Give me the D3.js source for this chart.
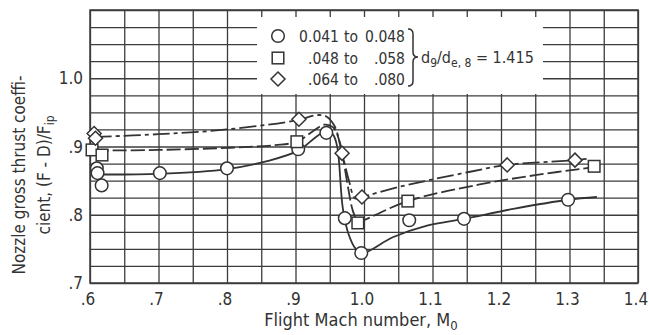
<!DOCTYPE html>
<html>
<head>
<meta charset="utf-8">
<script src="https://cdn.jsdelivr.net/npm/d3@7"></script>
<style>
  html, body { margin: 0; padding: 0; background: #fff; }
  svg { display: block; font-family: "Liberation Sans Narrow", "DejaVu Sans Condensed", "Arial Narrow", sans-serif; fill: #333; }
</style>
</head>
<body>
<svg id="chart" width="649" height="335"></svg>
<script>
// Axis ticks and labels
const xTickValues = [0.6, 0.7, 0.8, 0.9, 1.0, 1.1, 1.2, 1.3, 1.4];
const xTickLabels = [".6", ".7", ".8", ".9", "1.0", "1.1", "1.2", "1.3", "1.4"];
const yTickValues = [0.7, 0.8, 0.9, 1.0];
const yTickLabels = [".7", ".8", ".9", "1.0"];

// Measured points: Mach number and thrust-minus-drag coefficient
const circleMach = [0.610, 0.611, 0.617, 0.702, 0.800, 0.904, 0.945, 0.972, 0.996, 1.066, 1.146, 1.298];
const circleCoef = [0.868, 0.861, 0.843, 0.861, 0.868, 0.896, 0.920, 0.795, 0.744, 0.792, 0.794, 0.822];

const squareMach = [0.603, 0.6175, 0.902, 0.991, 1.064, 1.336];
const squareCoef = [0.895, 0.8875, 0.907, 0.788, 0.820, 0.871];

const diamondMach = [0.606, 0.608, 0.905, 0.968, 0.997, 1.209, 1.308];
const diamondCoef = [0.919, 0.912, 0.940, 0.890, 0.826, 0.873, 0.880];

// Faired curves through each data set
const solidMach = [0.607, 0.70, 0.80, 0.86, 0.904, 0.93, 0.945, 0.955, 0.961, 0.969, 0.977, 0.988, 0.998, 1.042, 1.092, 1.146, 1.22, 1.298, 1.34];
const solidCoef = [0.859, 0.860, 0.867, 0.879, 0.894, 0.914, 0.923, 0.917, 0.899, 0.810, 0.773, 0.750, 0.744, 0.767, 0.784, 0.794, 0.809, 0.822, 0.826];

const dashMach = [0.607, 0.70, 0.80, 0.87, 0.902, 0.925, 0.942, 0.955, 0.965, 0.975, 0.984, 0.992, 1.00, 1.064, 1.167, 1.25, 1.33];
const dashCoef = [0.894, 0.895, 0.898, 0.902, 0.907, 0.922, 0.932, 0.928, 0.905, 0.850, 0.805, 0.789, 0.792, 0.820, 0.844, 0.858, 0.869];

const dashDotMach = [0.607, 0.70, 0.80, 0.905, 0.93, 0.945, 0.957, 0.968, 0.978, 0.987, 0.997, 1.052, 1.155, 1.209, 1.308, 1.325];
const dashDotCoef = [0.914, 0.918, 0.925, 0.939, 0.946, 0.944, 0.930, 0.890, 0.850, 0.824, 0.826, 0.841, 0.863, 0.873, 0.880, 0.882];

// Legend entries
const legendShapes = ["circle", "square", "diamond"];
const legendLow = ["0.041", ".048", ".064"];
const legendHigh = ["0.048", ".058", ".080"];

const svg = d3.select("#chart");
const margin = { left: 90, right: 11, top: 10, bottom: 52 };
const W = 649, H = 335;
const x = d3.scaleLinear().domain([0.6, 1.4]).range([margin.left, W - margin.right]);
const y = d3.scaleLinear().domain([0.7, 1.1]).range([H - margin.bottom, margin.top]);

const ink = "#333";
const gridInk = "#3c3c3c";

// Grid lines every 0.05 in Mach and 0.025 in coefficient
const xGrid = d3.range(0, 17).map(i => 0.6 + i * 0.05);
const yGrid = d3.range(0, 17).map(i => 0.7 + i * 0.025).filter(v => v <= 1.1001);

const gx = svg.append("g")
  .attr("transform", `translate(0,${y(0.7)})`)
  .call(d3.axisBottom(x).tickValues(xGrid).tickSize(-(y(0.7) - y(1.1))).tickFormat(""));
gx.select(".domain").remove();
gx.selectAll("line").attr("stroke", gridInk).attr("stroke-width", 1.3);

const gy = svg.append("g")
  .attr("transform", `translate(${x(0.6)},0)`)
  .call(d3.axisLeft(y).tickValues(yGrid).tickSize(-(x(1.4) - x(0.6))).tickFormat(""));
gy.select(".domain").remove();
gy.selectAll("line").attr("stroke", gridInk).attr("stroke-width", 1.3);

// Frame
svg.append("rect")
  .attr("x", x(0.6)).attr("y", y(1.1))
  .attr("width", x(1.4) - x(0.6)).attr("height", y(0.7) - y(1.1))
  .attr("fill", "none").attr("stroke", gridInk).attr("stroke-width", 1.5);

// Tick labels
svg.append("g").selectAll("text").data(xTickValues).join("text")
  .attr("x", d => x(d) - 2).attr("y", 305)
  .attr("text-anchor", "middle").attr("font-size", 17).attr("fill", ink)
  .text((d, i) => xTickLabels[i]);

svg.append("g").selectAll("text").data(yTickValues).join("text")
  .attr("x", 83).attr("y", d => y(d) + 6)
  .attr("text-anchor", "end").attr("font-size", 17).attr("fill", ink)
  .text((d, i) => yTickLabels[i]);

// Axis titles
const xt = svg.append("text").attr("x", 361).attr("y", 326)
  .attr("text-anchor", "middle").attr("font-size", 18).attr("fill", ink);
xt.append("tspan").text("Flight Mach number,  M");
xt.append("tspan").attr("dy", 4).attr("font-size", 13).text("0");

svg.append("text")
  .attr("transform", "translate(25,175) rotate(-90)")
  .attr("text-anchor", "middle").attr("font-size", 17).attr("fill", ink)
  .text("Nozzle gross thrust coeffi-");
const yt2 = svg.append("text")
  .attr("transform", "translate(50,175) rotate(-90)")
  .attr("text-anchor", "middle").attr("font-size", 17).attr("fill", ink);
yt2.append("tspan").text("cient,  (F - D)/F");
yt2.append("tspan").attr("dy", 4).attr("font-size", 12).text("ip");

// Legend panel
svg.append("rect").attr("x", 257).attr("y", 17).attr("width", 286).attr("height", 77).attr("fill", "#fff");

function marker(sel, shape, cx, cy) {
  const g = sel.append("g").attr("transform", `translate(${cx},${cy})`)
    .attr("fill", "#fff").attr("stroke", ink).attr("stroke-width", 1.5);
  if (shape === "circle") g.append("circle").attr("r", 6.3);
  else if (shape === "square") g.append("rect").attr("x", -5.8).attr("y", -5.8).attr("width", 11.6).attr("height", 11.6);
  else g.append("path").attr("d", "M0,-7L7,0L0,7L-7,0Z");
  return g;
}

const legend = svg.append("g");
const rowY = [36, 58, 79];
legendShapes.forEach((s, i) => {
  marker(legend, s, 278, rowY[i]);
  legend.append("text").attr("x", 339).attr("y", rowY[i] + 6).attr("text-anchor", "end")
    .attr("font-size", 15.5).attr("fill", ink).text(legendLow[i]);
  legend.append("text").attr("x", 344).attr("y", rowY[i] + 6)
    .attr("font-size", 15.5).attr("fill", ink).text("to");
  legend.append("text").attr("x", 405).attr("y", rowY[i] + 6).attr("text-anchor", "end")
    .attr("font-size", 15.5).attr("fill", ink).text(legendHigh[i]);
});
legend.append("path")
  .attr("d", "M408,29 Q413,29 413,34 L413,52 Q413,57 418,57 Q413,57 413,62 L413,81 Q413,86 408,86")
  .attr("fill", "none").attr("stroke", ink).attr("stroke-width", 1.5);
const lt = legend.append("text").attr("x", 421).attr("y", 63).attr("font-size", 16).attr("fill", ink);
lt.append("tspan").text("d");
lt.append("tspan").attr("dy", 4).attr("font-size", 12).text("9");
lt.append("tspan").attr("dy", -4).text("/d");
lt.append("tspan").attr("dy", 4).attr("font-size", 12).text("e, 8");
lt.append("tspan").attr("dy", -4).text(" = 1.415");

// Faired curves
const line = d3.line().x(d => x(d[0])).y(d => y(d[1])).curve(d3.curveCatmullRom.alpha(0.5));
const curves = [
  { m: solidMach, c: solidCoef, dash: null },
  { m: dashMach, c: dashCoef, dash: "14,4" },
  { m: dashDotMach, c: dashDotCoef, dash: "17,4,4,4" }
];
curves.forEach(cv => {
  svg.append("path")
    .attr("d", line(cv.m.map((m, i) => [m, cv.c[i]])))
    .attr("fill", "none").attr("stroke", ink).attr("stroke-width", 1.8)
    .attr("stroke-dasharray", cv.dash);
});

// Data symbols
const pts = svg.append("g");
circleMach.forEach((m, i) => marker(pts, "circle", x(m), y(circleCoef[i])));
squareMach.forEach((m, i) => marker(pts, "square", x(m), y(squareCoef[i])));
diamondMach.forEach((m, i) => marker(pts, "diamond", x(m), y(diamondCoef[i])));
</script>
</body>
</html>
